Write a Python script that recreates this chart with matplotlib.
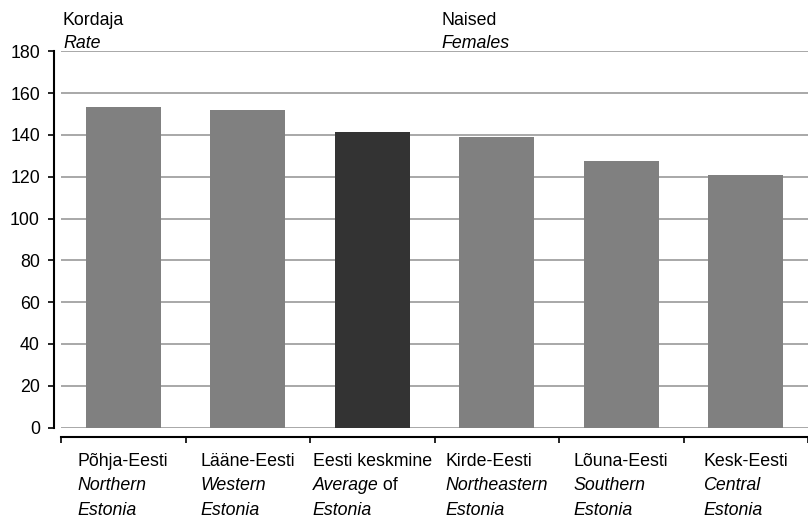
import matplotlib
matplotlib.use("Agg")
import matplotlib.pyplot as plt
from matplotlib.offsetbox import TextArea, VPacker, HPacker, AnnotationBbox

plt.rcParams["font.family"] = ["Liberation Sans", "DejaVu Sans"]

# data
regions_et = ["Põhja-Eesti", "Lääne-Eesti", "Eesti keskmine", "Kirde-Eesti", "Lõuna-Eesti", "Kesk-Eesti"]
regions_en = ["Northern", "Western", "Average", "Northeastern", "Southern", "Central"]
en_tail = ["", "", " of", "", "", ""]
values = [153.3, 151.9, 141.4, 139.1, 127.5, 120.8]
yticks = [0, 20, 40, 60, 80, 100, 120, 140, 160, 180]

W, H = 808, 517
fig = plt.figure(figsize=(W / 100, H / 100), dpi=100)
ax = fig.add_axes([61 / W, (H - 427.5) / H, (W - 61) / W, 376.2 / H])

x = list(range(len(values)))
colors = ["#333333" if r == "Eesti keskmine" else "#808080" for r in regions_et]
ax.bar(x, values, width=0.6, color=colors, zorder=3)

ax.set_ylim(0, 180)
ax.set_xlim(-0.5, 5.43)
ax.set_yticks(yticks)
ax.yaxis.grid(True, color="#a8a8a8", linewidth=1.4, zorder=0)
for gl in ax.get_ygridlines():
    gl.set_clip_on(False)

ax.spines["top"].set_visible(False)
ax.spines["right"].set_visible(False)
ax.spines["left"].set_position(("outward", 5.4))
ax.spines["bottom"].set_position(("outward", 7))
ax.spines["left"].set_linewidth(1.5)
ax.spines["bottom"].set_linewidth(1.5)
ax.spines["left"].set_bounds(0, 180)

ax.tick_params(axis="y", direction="out", length=4.3, width=1.2, pad=5.5, labelsize=12.8)
bounds = [i - 0.5 for i in range(len(values) + 1)]
ax.set_xticks(bounds)
ax.set_xticklabels([])
ax.tick_params(axis="x", direction="out", length=4.5, width=1.2)

# category labels: Estonian line regular, English lines italic
fs = 12.8
for i, (et, en, tail) in enumerate(zip(regions_et, regions_en, en_tail)):
    l1 = TextArea(et, textprops=dict(fontsize=fs))
    if tail:
        l2 = HPacker(children=[TextArea(en, textprops=dict(fontsize=fs, style="italic")),
                               TextArea(tail, textprops=dict(fontsize=fs))], sep=0, pad=0)
    else:
        l2 = TextArea(en, textprops=dict(fontsize=fs, style="italic"))
    l3 = TextArea("Estonia", textprops=dict(fontsize=fs, style="italic"))
    box = VPacker(children=[l1, l2, l3], align="left", sep=5.3, pad=0)
    ab = AnnotationBbox(box, (i, 0), xycoords=("data", "axes fraction"),
                        xybox=(0, -18.3), boxcoords="offset points",
                        box_alignment=(0.5, 1), frameon=False, pad=0,
                        annotation_clip=False)
    ax.add_artist(ab)

fig.text(63 / W, 1 - 25 / H, "Kordaja", fontsize=fs, va="baseline")
fig.text(63 / W, 1 - 47.5 / H, "Rate", fontsize=fs, style="italic", va="baseline")
fig.text(441 / W, 1 - 25 / H, "Naised", fontsize=fs, va="baseline")
fig.text(441 / W, 1 - 47.5 / H, "Females", fontsize=fs, style="italic", va="baseline")

fig.savefig("out.png", dpi=100)
